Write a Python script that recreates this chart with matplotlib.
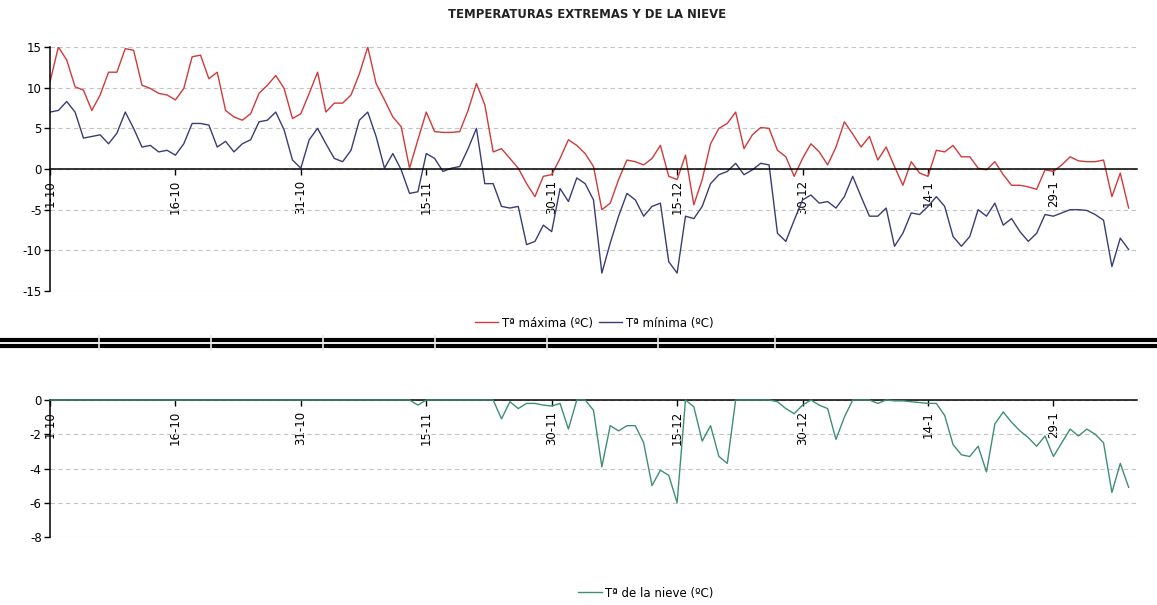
import numpy as np
import matplotlib.pyplot as plt
from matplotlib.lines import Line2D

# datos diarios desde el 1-10
t_max = [10.7, 15.0, 13.4, 10.1, 9.7, 7.2, 9.1, 11.9, 11.9, 14.8,
         14.6, 10.3, 9.9, 9.3, 9.1, 8.5, 9.9, 13.8, 14.0, 11.1,
         11.9, 7.2, 6.4, 6.0, 6.8, 9.3, 10.3, 11.5, 9.9, 6.2,
         6.8, 9.3, 11.9, 7.0, 8.1, 8.1, 9.1, 11.7, 15.0, 10.5,
         8.5, 6.4, 5.2, 0.1, 3.6, 7.0, 4.6, 4.5, 4.5, 4.6,
         7.2, 10.5, 7.9, 2.1, 2.5, 1.3, 0.1, -1.8, -3.4, -0.9,
         -0.7, 1.3, 3.6, 2.9, 1.9, 0.3, -5.0, -4.2, -1.3, 1.1,
         0.9, 0.5, 1.3, 2.9, -0.9, -1.3, 1.7, -4.4, -1.3, 3.1,
         5.0, 5.6, 7.0, 2.5, 4.2, 5.1, 5.0, 2.3, 1.5, -0.9,
         1.3, 3.1, 2.1, 0.5, 2.7, 5.8, 4.3, 2.7, 4.0, 1.1,
         2.7, 0.3, -2.0, 0.9, -0.5, -0.9, 2.3, 2.1, 2.9, 1.5,
         1.5, 0.1, -0.1, 0.9, -0.7, -2.0, -2.0, -2.2, -2.5, -0.1,
         -0.3, 0.5, 1.5, 1.0, 0.9, 0.9, 1.1, -3.4, -0.5, -4.8]

t_min = [7.0, 7.2, 8.3, 7.0, 3.8, 4.0, 4.2, 3.1, 4.4, 7.0,
         5.0, 2.7, 2.9, 2.1, 2.3, 1.7, 3.1, 5.6, 5.6, 5.4,
         2.7, 3.4, 2.1, 3.1, 3.6, 5.8, 6.0, 7.0, 4.8, 1.1,
         0.1, 3.6, 5.0, 3.1, 1.3, 0.9, 2.3, 6.0, 7.0, 4.0,
         0.1, 1.9, -0.1, -3.0, -2.8, 1.9, 1.3, -0.3, 0.1, 0.3,
         2.5, 5.0, -1.8, -1.8, -4.6, -4.8, -4.6, -9.3, -8.9, -6.9,
         -7.7, -2.4, -4.0, -1.1, -1.8, -3.8, -12.8, -9.1, -5.8, -3.0,
         -3.8, -5.8, -4.6, -4.2, -11.4, -12.8, -5.8, -6.1, -4.6, -1.8,
         -0.7, -0.3, 0.7, -0.7, -0.1, 0.7, 0.5, -7.9, -8.9, -6.3,
         -3.8, -3.2, -4.2, -4.0, -4.8, -3.4, -0.9, -3.4, -5.8, -5.8,
         -4.8, -9.5, -7.9, -5.4, -5.6, -4.6, -3.4, -4.6, -8.3, -9.5,
         -8.3, -5.0, -5.8, -4.2, -6.9, -6.1, -7.7, -8.9, -7.9, -5.6,
         -5.8, -5.4, -5.0, -5.0, -5.1, -5.6, -6.3, -12.0, -8.5, -9.9]

t_nieve = [0.0] * 44 + [
         -0.3, 0.0, 0.0, 0.0, 0.0, 0.0, 0.0, 0.0, 0.0, 0.0,
         -1.1, -0.1, -0.5, -0.2, -0.2, -0.3, -0.35, -0.2, -1.7, 0.0,
         0.0, -0.6, -3.9, -1.5, -1.8, -1.5, -1.5, -2.5, -5.0, -4.1,
         -4.4, -6.0, 0.0, -0.4, -2.4, -1.5, -3.3, -3.7, 0.0, 0.0,
         0.0, 0.0, 0.0, -0.1, -0.5, -0.8, -0.3, 0.0, -0.3, -0.5,
         -2.3, -1.0, 0.0, 0.0, 0.0, -0.2, 0.0, -0.05, -0.05, -0.1,
         -0.15, -0.2, -0.2, -0.9, -2.6, -3.2, -3.3, -2.7, -4.2, -1.4,
         -0.7, -1.3, -1.8, -2.2, -2.7, -2.1, -3.3, -2.5, -1.7, -2.1,
         -1.7, -2.0, -2.5, -5.4, -3.7, -5.1]

dias = np.arange(len(t_max))
pos_ticks = [0, 15, 30, 45, 60, 75, 90, 105, 120]
etiquetas = ['1-10', '16-10', '31-10', '15-11', '30-11', '15-12', '30-12', '14-1', '29-1']

W, H = 1157, 605
plt.rcParams['font.family'] = ['DejaVu Sans']
plt.rcParams['axes.unicode_minus'] = False
fig = plt.figure(figsize=(W / 100, H / 100), dpi=100)


def preparar(ax, ylim, yticks):
    ax.spines['top'].set_visible(False)
    ax.spines['right'].set_visible(False)
    ax.spines['bottom'].set_position(('data', 0))
    ax.spines['bottom'].set_linewidth(1.1)
    ax.spines['left'].set_linewidth(1.1)
    ax.set_xlim(0, 130)
    ax.set_ylim(*ylim)
    ax.set_yticks(yticks)
    ax.set_xticks(pos_ticks)
    ax.set_xticklabels(etiquetas)
    ax.tick_params(axis='both', direction='out', length=4, width=1, labelsize=8.5, pad=2)
    ax.tick_params(axis='x', labelrotation=90, pad=4)
    ax.set_axisbelow(True)
    ax.grid(axis='y', color='#c4c4c4', lw=0.8, ls=(0, (4, 3)))


ax1 = fig.add_axes([50 / W, 1 - 291 / H, (1137 - 50) / W, 244 / H])
preparar(ax1, (-15, 15), [-15, -10, -5, 0, 5, 10, 15])
l_max, = ax1.plot(dias, t_max, color='#d03a3a', lw=1.0, label='Tª máxima (ºC)')
l_min, = ax1.plot(dias, t_min, color='#3a3d75', lw=1.0, label='Tª mínima (ºC)')

ax2 = fig.add_axes([50 / W, 1 - 537 / H, (1137 - 50) / W, 137 / H])
preparar(ax2, (-8, 0), [-8, -6, -4, -2, 0])
l_nieve, = ax2.plot(dias, t_nieve, color='#3f8f72', lw=1.0, label='Tª de la nieve (ºC)',
                    zorder=5, clip_on=False)

fig.text(587 / W, 1 - 14 / H, 'TEMPERATURAS EXTREMAS Y DE LA NIEVE',
         ha='center', va='center', fontsize=8.4, fontweight='bold', color='#222222')

fig.legend(handles=[l_max, l_min], loc='center', bbox_to_anchor=(594 / W, 1 - 323 / H),
           ncol=2, frameon=False, fontsize=8.5, handlelength=2.0, columnspacing=0.5,
           handletextpad=0.3)
fig.legend(handles=[l_nieve], loc='center', bbox_to_anchor=(646 / W, 1 - 593 / H),
           frameon=False, fontsize=8.5, handlelength=2.0, handletextpad=0.3)

# separador entre los dos graficos
for yy in (339.5, 346.0):
    fig.add_artist(Line2D([0, 1], [1 - yy / H] * 2, color='black', lw=3.0))
for xx in (99, 211, 323, 435, 547, 658, 775):
    fig.add_artist(Line2D([xx / W] * 2, [1 - 336 / H, 1 - 350 / H], color='#e8e8e8', lw=1.2))

fig.savefig('out.png', dpi=100)
